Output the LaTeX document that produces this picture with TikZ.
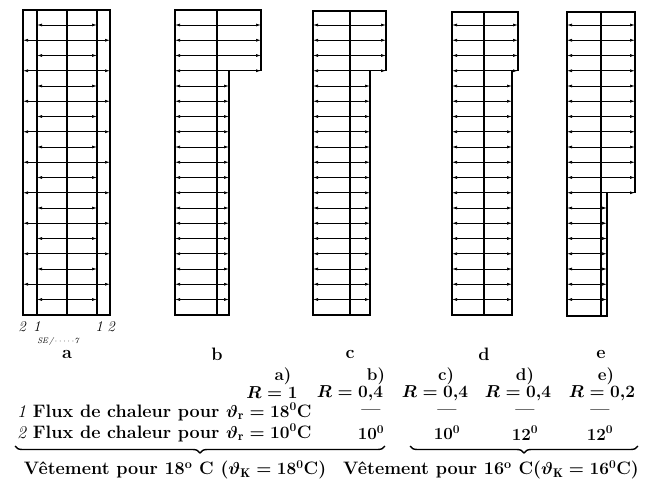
\documentclass[tikz,border=0pt]{standalone}
\usepackage{fontspec}
\usetikzlibrary{arrows.meta,decorations.pathreplacing}

\begin{document}
\begin{tikzpicture}[x=1pt,y=-1pt]
	\tikzstyle{every node}=[inner sep=0pt, font=\fontsize{17pt}{20pt}\selectfont\bfseries\boldmath\addfontfeatures{LetterSpace=15}]
	\tikzstyle{big}=[font=\fontsize{18pt}{21pt}\selectfont\bfseries\boldmath\addfontfeatures{LetterSpace=10}]
	\tikzstyle{line}=[anchor=west, font=\fontsize{18pt}{21pt}\selectfont\bfseries\boldmath\addfontfeatures{LetterSpace=24}]
	\tikzstyle{wall}=[line width=1.3pt, line join=miter]
	\tikzstyle{core}=[line width=1.7pt]
	\tikzstyle{flux}=[line width=0.7pt, -{Latex[length=5pt,width=3pt]}]
	\tikzstyle{digit}=[font=\fontsize{15pt}{17pt}\selectfont\itshape]
	\tikzstyle{curly}=[line width=1.4pt, decorate, decoration={brace, mirror, amplitude=7pt}]
	
	\useasboundingbox (0,0) rectangle (649,479);
	
	% column a
	\draw[wall] (23,10) rectangle (110,315);
	\draw[wall] (37,10) -- (37,315);
	\draw[wall] (97,10) -- (97,315);
	\draw[core] (67,10) -- (67,315);
	\foreach \k in {0,2,...,18}{
		\draw[flux] (67,{25+15.25*\k}) -- (37,{25+15.25*\k});
		\draw[flux] (67,{25+15.25*\k}) -- (97,{25+15.25*\k});
	}
	\foreach \k in {1,3,...,17}{
		\draw[flux] (67,{25+15.25*\k}) -- (23,{25+15.25*\k});
		\draw[flux] (67,{25+15.25*\k}) -- (110,{25+15.25*\k});
	}
	
	% column b
	\draw[wall] (175,10) -- (261,10) -- (261,70.75) -- (229,70.75) -- (229,315) -- (175,315) -- cycle;
	\draw[core] (217,10) -- (217,315);
	\foreach \k in {0,...,18} \draw[flux] (217,{25+15.25*\k}) -- (175,{25+15.25*\k});
	\foreach \k in {0,...,3} \draw[flux] (217,{25+15.25*\k}) -- (261,{25+15.25*\k});
	\foreach \k in {4,...,18} \draw[flux] (217,{25+15.25*\k}) -- (229,{25+15.25*\k});
	
	% column c
	\draw[wall] (313,11) -- (386,11) -- (386,70.75) -- (370,70.75) -- (370,315) -- (313,315) -- cycle;
	\draw[core] (350,11) -- (350,315);
	\foreach \k in {0,...,18} \draw[flux] (350,{25+15.25*\k}) -- (313,{25+15.25*\k});
	\foreach \k in {0,...,3} \draw[flux] (350,{25+15.25*\k}) -- (386,{25+15.25*\k});
	\foreach \k in {4,...,18} \draw[flux] (350,{25+15.25*\k}) -- (370,{25+15.25*\k});
	
	% column d
	\draw[wall] (452,12) -- (518,12) -- (518,70.75) -- (512,70.75) -- (512,315) -- (452,315) -- cycle;
	\draw[core] (484,12) -- (484,315);
	\foreach \k in {0,...,18} \draw[flux] (484,{25+15.25*\k}) -- (452,{25+15.25*\k});
	\foreach \k in {0,...,3} \draw[flux] (484,{25+15.25*\k}) -- (518,{25+15.25*\k});
	\foreach \k in {4,...,18} \draw[flux] (484,{25+15.25*\k}) -- (512,{25+15.25*\k});
	
	% column e
	\draw[wall] (567,12) -- (635,12) -- (635,192.75) -- (607,192.75) -- (607,316) -- (567,316) -- cycle;
	\draw[core] (601,12) -- (601,316);
	\foreach \k in {0,...,18} \draw[flux] (601,{25+15.25*\k}) -- (567,{25+15.25*\k});
	\foreach \k in {0,...,11} \draw[flux] (601,{25+15.25*\k}) -- (635,{25+15.25*\k});
	\foreach \k in {12,...,18} \draw[flux] (601,{25+15.25*\k}) -- (607,{25+15.25*\k});
	
	% layer numbers under a
	\node[digit] (outL) at (22,327) {2};
	\node[digit] (inL) at (37,327) {1};
	\node[digit] (inR) at (99,327) {1};
	\node[digit] (outR) at (111,327) {2};
	\node[font=\fontsize{8pt}{9pt}\selectfont\itshape] (sign) at (58,341) {SE\,/\,$\cdot\cdot\cdot\cdot\cdot$7};
	
	% column letters
	\node[big] (letA) at (67,354) {a};
	\node[big] (letB) at (217,354) {b};
	\node[big] (letC) at (350,354) {c};
	\node[big] (letD) at (484,354) {d};
	\node[big] (letE) at (601,354) {e};
	
	% table
	\node (caseA) at (283,376) {a)};
	\node (caseB) at (376,376) {b)};
	\node (caseC) at (446,376) {c)};
	\node (caseD) at (525,376) {d)};
	\node (caseE) at (606,376) {e)};
	
	\node[big] (resA) at (272,393) {$R=1$};
	\node[big] (resB) at (350,393) {$R=0{,}4$};
	\node[big] (resC) at (435,393) {$R=0{,}4$};
	\node[big] (resD) at (518,393) {$R=0{,}4$};
	\node[big] (resE) at (602,393) {$R=0{,}2$};
	
	\node[line] (fluxI) at (17,412) {{\normalfont\itshape 1} Flux de chaleur pour $\vartheta_{\mathrm{r}}=18^{0}$C};
	\node (dashB) at (371,412) {\textemdash};
	\node (dashC) at (447,412) {\textemdash};
	\node (dashD) at (525,412) {\textemdash};
	\node (dashE) at (600,412) {\textemdash};
	
	\node[line] (fluxII) at (17,433) {{\normalfont\itshape 2} Flux de chaleur pour $\vartheta_{\mathrm{r}}=10^{0}$C};
	\node (tempB) at (371,433) {10$^{0}$};
	\node (tempC) at (447,433) {10$^{0}$};
	\node (tempD) at (525,433) {12$^{0}$};
	\node (tempE) at (600,433) {12$^{0}$};
	
	% braces
	\coordinate (brA1) at (15,446);
	\coordinate (brA2) at (385,446);
	\coordinate (brB1) at (410,446);
	\coordinate (brB2) at (638,446);
	\draw[curly] (brA1) -- (brA2);
	\draw[curly] (brB1) -- (brB2);
	
	\node[big] (wearA) at (175,470) {Vêtement pour 18\textsuperscript{o} C ($\vartheta_{\mathrm{K}}=18^{0}$C)};
	\node[big] (wearB) at (491,470) {Vêtement pour 16\textsuperscript{o} C($\vartheta_{\mathrm{K}}=16^{0}$C)};
	
\end{tikzpicture}
\end{document}
